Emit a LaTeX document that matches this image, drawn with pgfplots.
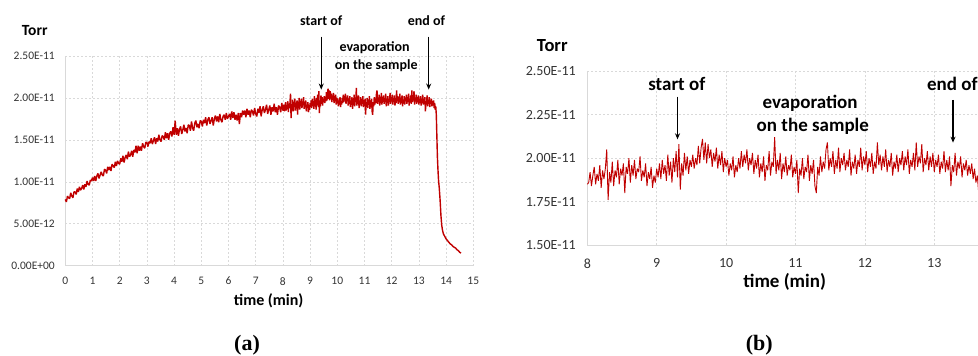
\documentclass[border=0pt]{standalone}
\usepackage{pgfplots}
\pgfplotsset{compat=1.18}
\usepackage{pgfplotstable}
\usetikzlibrary{arrows.meta}
\usepackage{fontspec}
\setmainfont{Carlito}
\newfontfamily\serifb{Liberation Serif}
\definecolor{curve}{HTML}{C00000}
\definecolor{gridc}{HTML}{D9D9D9}
\definecolor{tickc}{HTML}{333333}

% pressure in units of 1E-11 Torr
\pgfplotstableread[row sep=\\]{
t p\\
0.00 0.79\\ 0.04 0.76\\ 0.08 0.83\\ 0.12 0.81\\ 0.16 0.80\\ 0.20 0.87\\ 0.24 0.83\\ 0.28 0.81\\ 0.32 0.88\\ 0.36 0.88\\
0.40 0.85\\ 0.44 0.92\\ 0.48 0.88\\ 0.52 0.94\\ 0.56 0.90\\ 0.60 0.92\\ 0.64 0.96\\ 0.68 0.91\\ 0.72 0.97\\ 0.76 0.94\\
0.80 1.01\\ 0.84 0.97\\ 0.88 0.96\\ 0.92 1.02\\ 0.96 1.01\\ 1.00 1.05\\
1.04 1.01\\ 1.08 1.07\\ 1.12 1.01\\ 1.16 1.07\\ 1.20 1.10\\ 1.24 1.04\\ 1.28 1.08\\ 1.32 1.12\\ 1.36 1.08\\ 1.40 1.07\\
1.44 1.15\\ 1.48 1.14\\ 1.52 1.10\\ 1.56 1.18\\ 1.60 1.14\\ 1.64 1.18\\ 1.68 1.13\\ 1.72 1.21\\ 1.76 1.19\\ 1.80 1.17\\
1.84 1.24\\ 1.88 1.19\\ 1.92 1.25\\ 1.96 1.22\\ 2.00 1.21\\
2.04 1.28\\ 2.08 1.24\\ 2.12 1.31\\ 2.16 1.23\\ 2.20 1.29\\ 2.24 1.32\\ 2.28 1.27\\ 2.32 1.36\\ 2.36 1.30\\ 2.40 1.32\\
2.44 1.37\\ 2.48 1.30\\ 2.52 1.38\\ 2.56 1.35\\ 2.60 1.43\\ 2.64 1.34\\ 2.68 1.43\\ 2.72 1.37\\ 2.76 1.42\\ 2.80 1.37\\
2.84 1.46\\ 2.88 1.42\\ 2.92 1.40\\ 2.96 1.47\\ 3.00 1.47\\
3.04 1.42\\ 3.08 1.48\\ 3.12 1.46\\ 3.16 1.52\\ 3.20 1.45\\ 3.24 1.49\\ 3.28 1.53\\ 3.32 1.45\\ 3.36 1.52\\ 3.40 1.48\\
3.44 1.56\\ 3.48 1.50\\ 3.52 1.48\\ 3.56 1.55\\ 3.60 1.54\\ 3.64 1.50\\ 3.68 1.59\\ 3.72 1.52\\ 3.76 1.58\\ 3.80 1.50\\
3.84 1.58\\ 3.88 1.60\\ 3.92 1.54\\ 3.96 1.65\\ 4.00 1.56\\
4.04 1.73\\ 4.08 1.56\\ 4.12 1.64\\ 4.16 1.55\\ 4.20 1.63\\ 4.24 1.66\\ 4.28 1.57\\ 4.32 1.62\\ 4.36 1.68\\ 4.40 1.60\\
4.44 1.64\\ 4.48 1.58\\ 4.52 1.68\\ 4.56 1.67\\ 4.60 1.61\\ 4.64 1.72\\ 4.68 1.64\\ 4.72 1.61\\ 4.76 1.70\\ 4.80 1.73\\
4.84 1.65\\ 4.88 1.69\\ 4.92 1.64\\ 4.96 1.73\\ 5.00 1.72\\
5.04 1.66\\ 5.08 1.74\\ 5.12 1.70\\ 5.16 1.77\\ 5.20 1.67\\ 5.24 1.74\\ 5.28 1.77\\ 5.32 1.69\\ 5.36 1.73\\ 5.40 1.77\\
5.44 1.67\\ 5.48 1.75\\ 5.52 1.79\\ 5.56 1.72\\ 5.60 1.78\\ 5.64 1.71\\ 5.68 1.81\\ 5.72 1.74\\ 5.76 1.71\\ 5.80 1.78\\
5.84 1.80\\ 5.88 1.74\\ 5.92 1.82\\ 5.96 1.75\\ 6.00 1.78\\
6.04 1.81\\ 6.08 1.74\\ 6.12 1.84\\ 6.16 1.76\\ 6.20 1.83\\ 6.24 1.74\\ 6.28 1.80\\ 6.32 1.73\\ 6.36 1.82\\ 6.40 1.69\\
6.44 1.82\\ 6.48 1.77\\ 6.52 1.85\\ 6.56 1.80\\ 6.60 1.85\\ 6.64 1.77\\ 6.68 1.87\\ 6.72 1.80\\ 6.76 1.85\\ 6.80 1.77\\
6.84 1.86\\ 6.88 1.84\\ 6.92 1.79\\ 6.96 1.88\\ 7.00 1.81\\
7.04 1.78\\ 7.08 1.87\\ 7.12 1.82\\ 7.16 1.90\\ 7.20 1.78\\ 7.24 1.86\\ 7.28 1.90\\ 7.32 1.82\\ 7.36 1.86\\ 7.40 1.92\\
7.44 1.81\\ 7.48 1.86\\ 7.52 1.91\\ 7.56 1.80\\ 7.60 1.89\\ 7.64 1.84\\ 7.68 1.93\\ 7.72 1.83\\ 7.76 1.89\\ 7.80 1.80\\
7.84 1.91\\ 7.88 1.89\\ 7.92 1.83\\ 7.96 1.94\\ 8.00 1.85\\
8.02 1.86\\ 8.04 1.92\\ 8.06 1.84\\ 8.08 1.90\\ 8.10 1.95\\ 8.12 1.85\\ 8.14 1.91\\ 8.16 1.87\\ 8.18 1.96\\
8.20 1.83\\ 8.22 1.93\\ 8.24 1.88\\ 8.26 1.94\\ 8.28 2.05\\ 8.30 1.76\\ 8.32 1.92\\ 8.34 1.86\\ 8.36 1.98\\ 8.38 1.84\\
8.40 1.93\\ 8.42 1.89\\ 8.44 1.99\\ 8.46 1.85\\ 8.48 1.94\\ 8.50 1.90\\ 8.52 1.97\\ 8.54 1.80\\ 8.56 1.95\\ 8.58 1.91\\
8.60 2.00\\ 8.62 1.86\\ 8.64 1.96\\ 8.66 1.90\\ 8.68 1.99\\ 8.70 1.88\\ 8.72 1.94\\ 8.74 1.92\\ 8.76 2.01\\ 8.78 1.87\\
8.80 1.93\\ 8.82 1.89\\ 8.84 1.97\\ 8.86 1.84\\ 8.88 1.92\\ 8.90 1.88\\ 8.92 1.95\\ 8.94 1.83\\ 8.96 1.90\\ 8.98 1.86\\
9.00 1.94\\ 9.02 1.89\\ 9.04 1.97\\ 9.06 1.88\\ 9.08 1.99\\ 9.10 1.91\\ 9.12 1.96\\ 9.14 1.87\\ 9.16 2.02\\ 9.18 1.90\\
9.20 1.98\\ 9.22 1.86\\ 9.24 2.00\\ 9.26 1.92\\ 9.28 2.04\\ 9.30 1.89\\ 9.32 2.08\\ 9.34 1.82\\ 9.36 1.97\\ 9.38 1.90\\
9.40 2.03\\ 9.42 1.93\\ 9.44 2.01\\ 9.46 1.91\\ 9.48 1.99\\ 9.50 1.95\\ 9.52 2.02\\ 9.54 1.94\\ 9.56 2.00\\ 9.58 1.96\\
9.60 2.07\\ 9.62 1.97\\ 9.64 2.06\\ 9.66 2.11\\ 9.68 1.99\\ 9.70 2.09\\ 9.72 1.97\\ 9.74 2.08\\ 9.76 2.00\\ 9.78 2.05\\
9.80 1.95\\ 9.82 2.03\\ 9.84 1.98\\ 9.86 2.06\\ 9.88 1.94\\ 9.90 2.02\\ 9.92 1.96\\ 9.94 2.04\\ 9.96 1.92\\ 9.98 2.00\\
10.00 1.95\\ 10.02 1.99\\ 10.04 1.90\\ 10.06 1.97\\ 10.08 1.93\\ 10.10 2.01\\ 10.12 1.89\\ 10.14 1.96\\ 10.16 1.92\\ 10.18 2.00\\
10.20 1.94\\ 10.22 2.04\\ 10.24 1.95\\ 10.26 2.02\\ 10.28 1.97\\ 10.30 2.05\\ 10.32 1.93\\ 10.34 2.00\\ 10.36 1.96\\ 10.38 2.03\\
10.40 1.91\\ 10.42 1.99\\ 10.44 1.94\\ 10.46 2.02\\ 10.48 1.89\\ 10.50 1.97\\ 10.52 1.92\\ 10.54 2.01\\ 10.56 1.87\\ 10.58 1.96\\
10.60 1.93\\ 10.62 2.04\\ 10.64 1.90\\ 10.66 1.98\\ 10.68 1.95\\ 10.70 2.12\\ 10.72 1.91\\ 10.74 1.99\\ 10.76 1.93\\ 10.78 2.03\\
10.80 1.88\\ 10.82 1.97\\ 10.84 1.92\\ 10.86 2.01\\ 10.88 1.90\\ 10.90 1.96\\ 10.92 1.93\\ 10.94 2.02\\ 10.96 1.89\\ 10.98 1.95\\
11.00 1.91\\ 11.02 1.99\\ 11.04 1.80\\ 11.06 1.94\\ 11.08 1.90\\ 11.10 2.00\\ 11.12 1.88\\ 11.14 1.95\\ 11.16 1.92\\ 11.18 2.02\\
11.20 1.87\\ 11.22 1.96\\ 11.24 1.91\\ 11.26 1.99\\ 11.28 1.84\\ 11.30 1.80\\ 11.32 1.95\\ 11.34 1.90\\ 11.36 2.01\\ 11.38 1.92\\
11.40 1.98\\ 11.42 1.94\\ 11.44 2.05\\ 11.46 2.09\\ 11.48 1.93\\ 11.50 2.00\\ 11.52 1.95\\ 11.54 2.04\\ 11.56 1.91\\ 11.58 1.99\\
11.60 1.94\\ 11.62 2.06\\ 11.64 1.92\\ 11.66 2.00\\ 11.68 1.96\\ 11.70 2.03\\ 11.72 1.93\\ 11.74 1.99\\ 11.76 1.95\\ 11.78 2.05\\
11.80 1.90\\ 11.82 1.98\\ 11.84 1.94\\ 11.86 2.02\\ 11.88 1.91\\ 11.90 1.99\\ 11.92 1.95\\ 11.94 2.06\\ 11.96 1.93\\ 11.98 2.01\\
12.00 1.96\\ 12.02 2.04\\ 12.04 1.92\\ 12.06 2.00\\ 12.08 1.95\\ 12.10 2.03\\ 12.12 1.91\\ 12.14 1.98\\ 12.16 1.94\\ 12.18 2.09\\
12.20 1.96\\ 12.22 2.02\\ 12.24 1.93\\ 12.26 2.01\\ 12.28 1.95\\ 12.30 2.05\\ 12.32 1.92\\ 12.34 1.99\\ 12.36 1.95\\ 12.38 2.03\\
12.40 1.90\\ 12.42 1.98\\ 12.44 1.94\\ 12.46 2.02\\ 12.48 1.92\\ 12.50 2.00\\ 12.52 1.96\\ 12.54 2.04\\ 12.56 1.93\\ 12.58 2.01\\
12.60 1.96\\ 12.62 2.05\\ 12.64 1.91\\ 12.66 1.99\\ 12.68 1.95\\ 12.70 2.03\\ 12.72 1.93\\ 12.74 2.09\\ 12.76 1.95\\ 12.78 2.01\\
12.80 1.97\\ 12.82 2.08\\ 12.84 1.92\\ 12.86 2.00\\ 12.88 1.96\\ 12.90 2.04\\ 12.92 1.93\\ 12.94 2.01\\ 12.96 1.95\\ 12.98 2.03\\
13.00 1.92\\ 13.02 1.99\\ 13.04 1.95\\ 13.06 2.02\\ 13.08 1.91\\ 13.10 1.98\\ 13.12 1.94\\ 13.14 2.04\\ 13.16 1.92\\ 13.18 1.99\\
13.20 1.93\\ 13.22 2.01\\ 13.24 1.84\\ 13.26 1.96\\ 13.28 1.92\\ 13.30 2.03\\ 13.32 1.90\\ 13.34 1.98\\ 13.36 1.94\\ 13.38 2.01\\
13.40 1.89\\ 13.42 1.97\\ 13.44 1.93\\ 13.46 1.99\\ 13.48 1.90\\ 13.50 1.96\\ 13.52 1.91\\ 13.54 1.97\\ 13.56 1.88\\ 13.58 1.94\\
13.60 1.86\\ 13.62 1.90\\ 13.64 1.80\\ 13.66 1.55\\ 13.68 1.30\\ 13.70 1.15\\ 13.72 1.03\\ 13.75 0.92\\ 13.78 0.78\\ 13.81 0.60\\
13.84 0.48\\ 13.87 0.42\\ 13.90 0.38\\ 13.95 0.35\\ 14.00 0.32\\ 14.05 0.30\\ 14.10 0.28\\ 14.15 0.26\\ 14.20 0.25\\ 14.25 0.23\\
14.30 0.22\\ 14.35 0.21\\ 14.40 0.19\\ 14.45 0.18\\ 14.50 0.16\\ 14.55 0.15\\
}\pressure

\pgfplotsset{
  panel/.style={
    scale only axis, anchor=south west, clip=false,
    axis x line*=bottom, axis y line*=left,
    axis line style={gridc, line width=0.8pt},
    major tick length=0pt, tick style={draw=none},
    grid=major, major grid style={gridc, line width=0.6pt, dash pattern=on 2pt off 2pt},
    ticklabel style={text=tickc},
    /pgf/number format/assume math mode=true,
  }
}

\begin{document}
\begin{tikzpicture}
\useasboundingbox (0pt,0pt) rectangle (978pt,356pt);
\clip (0pt,0pt) rectangle (978pt,356pt);

% ---------- panel (a)
\begin{axis}[panel, at={(65.3pt,90.3pt)}, width=408pt, height=209.7pt,
  xmin=0, xmax=15, ymin=0, ymax=2.5,
  xtick={0,1,...,15},
  ytick={0,0.5,1,1.5,2,2.5},
  yticklabels={0.00E+00,5.00E-12,1.00E-11,1.50E-11,2.00E-11,2.50E-11},
  ticklabel style={font=\fontsize{11.5}{13}\selectfont},
  xticklabel style={yshift=-8pt},
  yticklabel style={xshift=-7pt},
]
\addplot[curve, line width=1.4pt, line join=bevel] table[x=t, y=p] {\pressure};
\node[font=\bfseries\fontsize{14}{16}\selectfont] at (axis cs:9.41,2.92) {start of};
\node[font=\bfseries\fontsize{14}{16}\selectfont] at (axis cs:13.28,2.92) {end of};
\node[font=\bfseries\fontsize{14}{16}\selectfont] at (axis cs:11.37,2.60) {evaporation};
\node[font=\bfseries\fontsize{14}{16}\selectfont] at (axis cs:11.43,2.39) {on the sample};
\draw[-{Stealth[length=6pt,width=5pt]}, line width=1.2pt] (axis cs:9.41,2.73) -- (axis cs:9.41,2.10);
\draw[-{Stealth[length=6pt,width=5pt]}, line width=1.2pt] (axis cs:13.36,2.73) -- (axis cs:13.36,2.10);
\end{axis}

% ---------- panel (b)
\begin{axis}[panel, at={(587.3pt,110.7pt)}, width=390.7pt, height=174.3pt,
  xmin=8, xmax=13.63, ymin=1.5, ymax=2.5,
  xtick={8,9,...,13},
  ytick={1.5,1.75,2,2.25,2.5},
  yticklabels={1.50E-11,1.75E-11,2.00E-11,2.25E-11,2.50E-11},
  ticklabel style={font=\fontsize{14}{16}\selectfont},
  xticklabel style={yshift=-10pt},
  yticklabel style={xshift=-8pt},
]
\addplot[curve, line width=0.9pt, line join=bevel, restrict x to domain=8:13.67] table[x=t, y=p] {\pressure};
\node[font=\bfseries\fontsize{19}{21}\selectfont] at (axis cs:9.29,2.424) {start of};
\node[font=\bfseries\fontsize{19}{21}\selectfont] at (axis cs:13.26,2.424) {end of};
\node[font=\bfseries\fontsize{19}{21}\selectfont] at (axis cs:11.21,2.315) {evaporation};
\node[font=\bfseries\fontsize{19}{21}\selectfont] at (axis cs:11.25,2.181) {on the sample};
\draw[-{Stealth[length=6pt,width=5pt]}, line width=1.2pt] (axis cs:9.30,2.353) -- (axis cs:9.30,2.108);
\draw[-{Stealth[length=6pt,width=5pt]}, line width=1.2pt] (axis cs:13.27,2.334) -- (axis cs:13.27,2.089);
\end{axis}

% ---------- outside labels
\node[font=\bfseries\fontsize{15.5}{17}\selectfont] at (34.7pt,325pt) {Torr};
\node[font=\bfseries\fontsize{18.5}{20}\selectfont] at (552.3pt,310pt) {Torr};
\node[font=\bfseries\fontsize{16}{18}\selectfont] at (268.7pt,55.3pt) {time (min)};
\node[font=\bfseries\fontsize{19}{21}\selectfont] at (784.7pt,74.5pt) {time (min)};
\node[font=\serifb\bfseries\fontsize{22}{24}\selectfont] at (247pt,11pt) {(a)};
\node[font=\serifb\bfseries\fontsize{22}{24}\selectfont] at (759.3pt,11pt) {(b)};
\end{tikzpicture}
\end{document}
